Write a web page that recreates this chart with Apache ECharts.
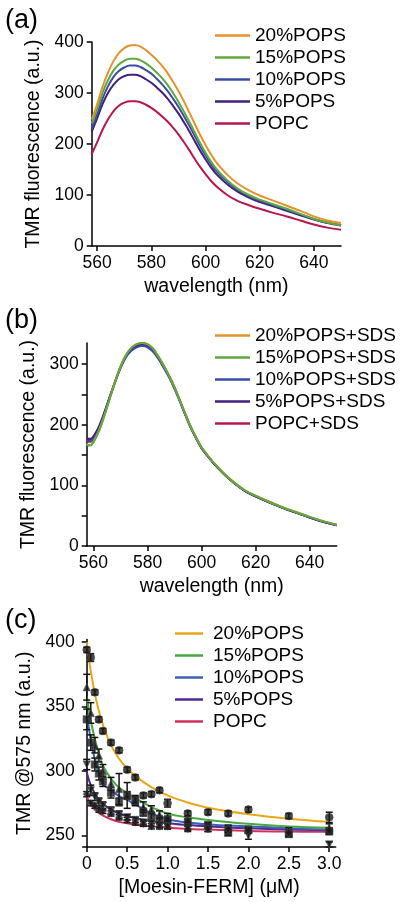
<!DOCTYPE html>
<html>
<head>
<meta charset="utf-8">
<script src="https://cdn.jsdelivr.net/npm/echarts@6/dist/echarts.min.js"></script>
<style>html,body{margin:0;padding:0;background:#fff}#c{width:400px;height:902px}</style>
</head>
<body>
<div id="c"></div>
<script>
// ---------- Panel (a) ----------
const wlA = [558,560,562,564,566,568,570,572,574,576,578,580,582,584,586,588,590,592,594,596,598,600,602,604,608,612,616,620,625,630,635,640,645,650];
const a20 = [248,278,312,340,362,378,388,393,394,391,384,375,365,353,339,322,304,284,262,240,218,198,180,164,140,122,109,99,89,79,69,58,50,45];
const a15 = [240,268,300,325,344,356,363,367,367,364,358,350,340,329,316,300,283,264,244,223,202,183,166,151,129,112,100,91,82,73,63,53,46,40];
const a10 = [230,258,289,313,331,343,350,354,354,351,345,338,328,317,304,289,273,255,236,216,196,178,161,147,126,110,98,89,80,71,62,53,46,41];
const a5  = [224,250,278,300,316,327,333,336,336,333,327,320,311,301,289,275,260,243,225,206,187,170,154,141,121,106,95,86,78,69,60,52,45,40];
const aPC = [180,203,228,248,264,275,281,284,284,282,277,271,263,254,244,232,219,204,188,171,155,141,128,117,100,88,80,73,65,58,50,42,36,32];
const namesA = ['20%POPS','15%POPS','10%POPS','5%POPS','POPC'];
const ticksA_x = [560,580,600,620,640];
const ticksA_y = [0,100,200,300,400];

// ---------- Panel (b) ----------
const wlB = [557.5,558,559,560,562,564,566,568,570,572,574,576,578,580,582,584,586,588,590,592,594,596,598,600,604,608,612,616,620,625,630,635,640,645,650];
const b20 = [169,167,167,172,190,215,243,271,296,315,327,333,335,333,326,313,298,281,262,240,218,197,179,163,140,121,105,92,83,73,64,56,48,41,35];
const b15 = [167,166,166,171,189,214,243,271,296,315,327,333,335,333,326,313,298,281,262,240,218,197,179,163,140,121,105,92,83,73,64,56,48,41,35];
const b10 = [173,172,172,176,193,217,244,270,293,311,322,328,330,328,321,309,294,278,259,238,216,195,177,161,139,120,104,91,82,72,63,55,47,40,34];
const b5  = [178,177,177,181,197,220,246,271,295,313,324,330,332,330,324,311,296,280,261,239,217,196,178,162,139,120,104,91,82,72,63,55,47,40,34];
const bPC = [176,175,175,179,195,219,245,271,295,313,325,331,333,331,325,312,297,280,261,240,217,196,178,162,139,120,104,91,82,72,63,55,47,40,35];
const namesB = ['20%POPS+SDS','15%POPS+SDS','10%POPS+SDS','5%POPS+SDS','POPC+SDS'];
const ticksB_x = [560,580,600,620,640];
const ticksB_y = [0,50,100,150,200,250,300];

// ---------- Panel (c) ----------
const fitX = [0,0.025,0.05,0.1,0.15,0.2,0.3,0.4,0.5,0.6,0.8,1.0,1.25,1.5,2.0,2.5,3.0];
const c20fit = [400,388,377.5,360,346.5,336,320,309.5,302,296,287.5,281,275.5,271.5,266.5,263,260.5];
const c15fit = [358,348,339,325,313,304,294,287,283,279,272,267,264,262,259,257,256];
const c10fit = [345,334,324,309,298,290,285,280.5,277.5,274,267,262.5,260,258.5,257,255.5,254.5];
const c5fit  = [299,293.5,289,282.5,278,274.5,270,267,265,263.5,261,259.5,258,257,255.5,254.5,254];
const cPCfit = [280,277,274.5,270,267.5,265.5,262.5,260.5,259.5,258.5,257,256,255,254.5,253.5,253,252.8];
const concX = [0,0.05,0.1,0.15,0.2,0.3,0.4,0.5,0.6,0.7,0.8,0.9,1.0,1.25,1.5,1.75,2.0,2.5,3.0];
const p20  = [394,388,361,340,331,322,316,301,295,281,282,285,275,267,268,267,270,265,264];
const e20  = [2,3,2,2,2,2,2,2,2,2,2,2,3,2,2,2,2,2,4];
const p15  = [365,345,320,312,300,290,286,281,277,272,270,266,264,262,258,256,255,254,256];
const e15  = [10,8,6,5,5,5,12,10,4,4,3,3,3,3,2,2,2,2,3];
const p10  = [340,322,305,298,292,283,276,281,277,268,265,262,262,260,258,252,254,251,253];
const e10  = [8,6,5,5,4,4,3,3,3,3,3,3,3,3,2,2,2,2,2];
const p5   = [305,285,280,276,273,269,266,264,262,260,259,258,257,256,255,254,250,251,243];
const e5   = [4,4,3,3,3,3,3,2,2,2,2,2,2,2,2,2,3,2,2];
const pPC  = [282,275,273,270,269,267,264,262,260,259,257,257,257,255,255,255,254,252,254];
const ePC  = [2,2,2,2,2,2,2,2,2,2,2,2,2,2,2,2,2,2,2];
const namesC = ['20%POPS','15%POPS','10%POPS','5%POPS','POPC'];
const ticksC_x = [0,0.5,1.0,1.5,2.0,2.5,3.0];
const ticksC_y = [250,300,350,400];

const colorsAB = ['#E5922E','#5DAA3E','#3A4CA8','#40207E','#B8164E'];
const colorsC  = ['#E9A618','#47A83F','#3C60B6','#4E2B90','#D0305C'];
const FONT = 'Liberation Sans, Arial, Helvetica, sans-serif';

const chart = echarts.init(document.getElementById('c'), null, {renderer:'canvas'});

function xAxisCfg(gi, min, max, ticks, name, fmt){
  return {
    type:'value', gridIndex:gi, min:min, max:max,
    name:name, nameLocation:'middle', nameGap:31,
    nameTextStyle:{fontSize:19.5, color:'#000', fontFamily:FONT},
    axisLine:{lineStyle:{color:'#000', width:1.5}},
    axisTick:{show:true, length:5, inside:false, lineStyle:{color:'#000', width:1.5}, customValues:ticks},
    axisLabel:{color:'#000', fontSize:17.5, fontFamily:FONT, margin:8, customValues:ticks, formatter:fmt},
    splitLine:{show:false}
  };
}
function yAxisCfg(gi, min, max, ticks, labels, name, gap){
  return {
    type:'value', gridIndex:gi, min:min, max:max,
    name:name, nameLocation:'middle', nameGap:gap,
    nameTextStyle:{fontSize:19.5, color:'#000', fontFamily:FONT},
    axisLine:{lineStyle:{color:'#000', width:1.5}},
    axisTick:{show:true, length:5, inside:false, lineStyle:{color:'#000', width:1.5}, customValues:ticks},
    axisLabel:{color:'#000', fontSize:17.5, fontFamily:FONT, margin:8, customValues:labels},
    splitLine:{show:false}
  };
}

const series = [];
const serA = [a20,a15,a10,a5,aPC];
serA.forEach((arr,i)=>{
  series.push({type:'line', name:namesA[i], xAxisIndex:0, yAxisIndex:0, smooth:0.35, showSymbol:false, symbol:'none',
    data: wlA.map((w,k)=>[w,arr[k]]), lineStyle:{width:2, color:colorsAB[i]}, itemStyle:{color:colorsAB[i]}, z:10-i});
});
const serB = [b20,b15,b10,b5,bPC];
const zB = [4,5,3,2,1];
serB.forEach((arr,i)=>{
  series.push({type:'line', name:namesB[i], xAxisIndex:1, yAxisIndex:1, smooth:0.35, showSymbol:false, symbol:'none',
    data: wlB.map((w,k)=>[w,arr[k]]), lineStyle:{width:2, color:colorsAB[i]}, itemStyle:{color:colorsAB[i]}, z:zB[i]});
});
const fitsC = [c20fit,c15fit,c10fit,c5fit,cPCfit];
fitsC.forEach((arr,i)=>{
  series.push({type:'line', name:'c-'+namesC[i], xAxisIndex:2, yAxisIndex:2, smooth:0.4, showSymbol:false, symbol:'none',
    data: fitX.map((x,k)=>[x,arr[k]]), lineStyle:{width:2, color:colorsC[i]}, itemStyle:{color:colorsC[i]}, z:3+(4-i)});
});
const ptsC = [[p20,e20,'circle',0],[p15,e15,'triangle',0],[p10,e10,'rect',0],[p5,e5,'triangle',180],[pPC,ePC,'diamond',0]];
ptsC.forEach((p,i)=>{
  const dat = concX.map((x,k)=>[x,p[0][k],p[1][k]]);
  series.push({type:'custom', name:'err'+i, xAxisIndex:2, yAxisIndex:2, z:20,
    data:dat, renderItem:function(params, api){
      const x = api.value(0), y = api.value(1), e = api.value(2);
      const top = api.coord([x, y+e]); const bot = api.coord([x, y-e]);
      const w = 3.5;
      return {type:'group', children:[
        {type:'line', shape:{x1:top[0], y1:top[1], x2:bot[0], y2:bot[1]}, style:{stroke:'#111', lineWidth:1.5}},
        {type:'line', shape:{x1:top[0]-w, y1:top[1], x2:top[0]+w, y2:top[1]}, style:{stroke:'#111', lineWidth:1.5}},
        {type:'line', shape:{x1:bot[0]-w, y1:bot[1], x2:bot[0]+w, y2:bot[1]}, style:{stroke:'#111', lineWidth:1.5}}
      ]};
    }});
  series.push({type:'scatter', name:'pts'+i, xAxisIndex:2, yAxisIndex:2, z:21,
    symbol:p[2], symbolRotate:p[3], symbolSize:(p[2]==='circle'?8:7.5),
    data:concX.map((x,k)=>[x,p[0][k]]),
    itemStyle:{color:'#1a1a1a', borderColor:'#555', borderWidth:0.6}});
});

function legendCfg(names, top, left, colors, prefix, iw){
  return {
    show:true, orient:'vertical', left:left, top:top, padding:0, itemGap:3,
    icon:'rect', itemWidth:iw, itemHeight:2.5,
    textStyle:{fontSize:19, color:'#000', fontFamily:FONT, lineHeight:18, padding:[0,0,0,(iw<30?5:0)]},
    data: names.map((n,i)=>({name:prefix+n, itemStyle:{color:colors[i]}})),
    formatter: prefix ? function(n){return n.replace(prefix,'');} : undefined,
    selectedMode:false
  };
}

const option = {
  animation:false,
  backgroundColor:'#fff',
  textStyle:{fontFamily:FONT},
  grid:[
    {left:91.7, width:249.3, top:42, height:204},
    {left:86.7, width:250, top:343, height:203},
    {left:82.7, width:253, top:639.5, height:207.5}
  ],
  xAxis:[
    xAxisCfg(0, 558, 650, ticksA_x, 'wavelength (nm)', v=>String(v)),
    xAxisCfg(1, 557.5, 650, ticksB_x, 'wavelength (nm)', v=>String(v)),
    xAxisCfg(2, -0.05, 3.08, ticksC_x, '[Moesin-FERM] (μM)', v=> v===0 ? '0' : v.toFixed(1))
  ],
  yAxis:[
    yAxisCfg(0, 0, 400, ticksA_y, ticksA_y, 'TMR fluorescence (a.u.)', 45),
    yAxisCfg(1, 0, 335, ticksB_y, ticksB_y.filter(v=>v%100===0), 'TMR fluorescence (a.u.)', 41),
    yAxisCfg(2, 241, 402, ticksC_y, ticksC_y, 'TMR @575 nm (a.u.)', 38)
  ],
  legend:[
    legendCfg(namesA, 26, 215, colorsAB, '', 35),
    legendCfg(namesB, 326, 215, colorsAB, '', 35),
    legendCfg(namesC, 624, 175, colorsC, 'c-', 28)
  ],
  graphic:[
    {type:'text', left:5, top:7, style:{text:'(a)', fontSize:27, fill:'#000', fontFamily:FONT}},
    {type:'text', left:5, top:307, style:{text:'(b)', fontSize:27, fill:'#000', fontFamily:FONT}},
    {type:'text', left:5, top:607, style:{text:'(c)', fontSize:27, fill:'#000', fontFamily:FONT}}
  ],
  series:series
};
chart.setOption(option);
</script>
</body>
</html>
